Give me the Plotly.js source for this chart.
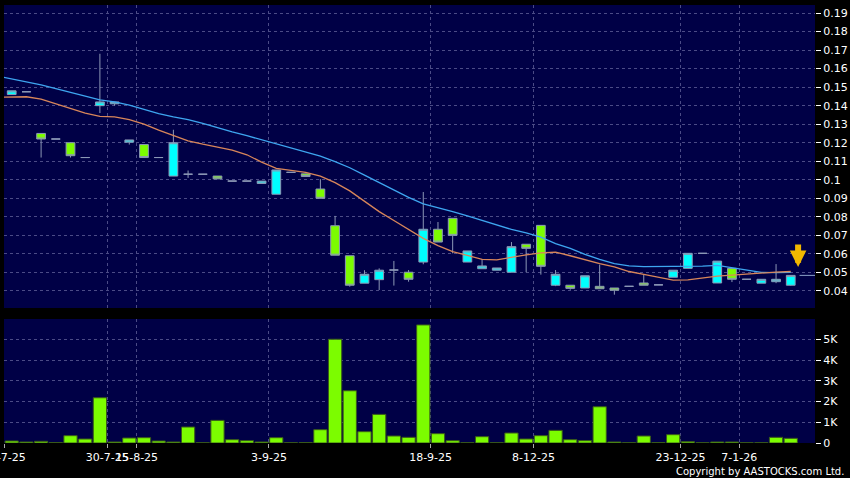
<!DOCTYPE html>
<html>
<head>
<meta charset="utf-8">
<script src="https://cdn.plot.ly/plotly-3.0.1.min.js"></script>
<style>html,body{margin:0;padding:0;background:#000;}#chart{width:850px;height:478px;}</style>
</head>
<body>
<div id="chart"></div>
<script>
// ---- data ----
const openP  = [0.146,0.1475,0.125,0.122,0.120,0.112,0.140,0.141,0.1203,0.119,0.112,0.102,0.103,0.103,0.102,0.0993,0.0993,0.098,0.0922,0.104,0.1032,0.095,0.0752,0.059,0.0442,0.0461,0.0513,0.0501,0.0556,0.0733,0.0792,0.0556,0.052,0.0512,0.0501,0.0652,0.0754,0.0431,0.0431,0.0416,0.0425,0.0416,0.0425,0.0443,0.0433,0.0474,0.0522,0.0603,0.0443,0.0522,0.0463,0.0442,0.045,0.0431];
const highP  = [0.148,0.1475,0.125,0.122,0.120,0.112,0.168,0.142,0.1215,0.119,0.112,0.127,0.105,0.103,0.102,0.0993,0.0993,0.0993,0.1053,0.104,0.1032,0.1003,0.0805,0.059,0.0512,0.0522,0.0562,0.0513,0.0934,0.0772,0.0792,0.0616,0.0573,0.0524,0.0664,0.0652,0.0754,0.0513,0.0431,0.0482,0.0542,0.0416,0.0425,0.049,0.0433,0.0512,0.0603,0.0603,0.0561,0.0522,0.0463,0.0463,0.0545,0.0484];
const lowP   = [0.146,0.1475,0.112,0.122,0.112,0.112,0.136,0.140,0.119,0.112,0.112,0.102,0.101,0.103,0.1005,0.0993,0.0993,0.098,0.0922,0.104,0.1018,0.090,0.0593,0.0423,0.0442,0.0405,0.0429,0.045,0.0544,0.0664,0.0603,0.0556,0.052,0.0512,0.0501,0.0501,0.0488,0.0426,0.0407,0.0416,0.0412,0.038,0.0425,0.0431,0.0433,0.0474,0.0522,0.0603,0.0443,0.0448,0.0463,0.0442,0.0442,0.0428];
const closeP = [0.148,0.1475,0.122,0.122,0.113,0.112,0.142,0.142,0.1215,0.112,0.112,0.120,0.103,0.103,0.1005,0.0993,0.0993,0.0993,0.1053,0.104,0.1018,0.090,0.0593,0.0431,0.049,0.0512,0.0513,0.0463,0.0733,0.0664,0.070,0.0616,0.0535,0.0524,0.0639,0.063,0.0533,0.049,0.0414,0.0482,0.0412,0.0404,0.0425,0.0431,0.0433,0.0512,0.0603,0.0603,0.0561,0.0463,0.0463,0.0463,0.0463,0.0484];
const volume = [96,48,80,16,353,192,2180,48,240,256,96,48,770,10,1090,160,112,48,256,10,16,641,5000,2517,545,1379,337,273,5690,449,112,10,305,10,481,192,353,609,160,112,1747,48,10,337,16,401,64,10,48,48,10,10,273,224];
// moving averages, first value belongs to the bar before the first visible one
const maShort = [0.1445,0.1447,0.1448,0.1435,0.1410,0.1386,0.1360,0.1342,0.1340,0.1325,0.1300,0.1268,0.1240,0.1210,0.1192,0.1175,0.1160,0.1135,0.1095,0.1062,0.1050,0.1040,0.1020,0.0985,0.0940,0.0883,0.0828,0.0780,0.0733,0.0684,0.0645,0.0612,0.0592,0.0570,0.0568,0.0582,0.0595,0.0605,0.0609,0.0590,0.0568,0.0548,0.0530,0.0505,0.0490,0.0475,0.0458,0.0460,0.0470,0.0480,0.0485,0.0492,0.0497,0.0502,0.0505];
const maLong  = [0.1560,0.1545,0.1530,0.1512,0.1492,0.1472,0.1452,0.1431,0.1420,0.1403,0.1380,0.1357,0.1340,0.1325,0.1305,0.1280,0.1258,0.1238,0.1216,0.1196,0.1170,0.1152,0.1128,0.1098,0.1065,0.1025,0.0984,0.0945,0.0905,0.0870,0.0850,0.0828,0.0805,0.0780,0.0755,0.0732,0.0714,0.0690,0.0655,0.0630,0.0598,0.0570,0.0548,0.0535,0.0531,0.0531,0.0531,0.0531,0.0534,0.0538,0.0524,0.0510,0.0500,0.0499,0.0500];
const dateLabels = ['21-7-25','30-7-25','15-8-25','3-9-25','18-9-25','8-12-25','23-12-25','7-1-26'];
const datePos    = [-0.5, 6.5, 8.5, 17.5, 28.5, 35.5, 45.5, 49.5];
const volTickVals = [0,1000,2000,3000,4000,5000];
const volTickText = ['0','1K','2K','3K','4K','5K'];

// ---- build ----
const xi = openP.map((_, i) => i);
const xma = maShort.map((_, i) => i - 1);
const last = closeP.length - 1;

const gridColor = '#4b4b86';
const tickFont = {family: 'DejaVu Sans', size: 11, color: '#ffffff'};
const xRange = [-0.524, 54.65];

const traces = [
  {
    type: 'candlestick', x: xi, open: openP, high: highP, low: lowP, close: closeP,
    xaxis: 'x', yaxis: 'y',
    increasing: {line: {color: '#8c98b6', width: 1}, fillcolor: '#00ffff'},
    decreasing: {line: {color: '#8c98b6', width: 1}, fillcolor: '#7cfc00'},
    whiskerwidth: 0, hoverinfo: 'skip'
  },
  {type: 'scatter', mode: 'lines', x: xma, y: maLong, xaxis: 'x', yaxis: 'y',
   line: {color: '#3ea6f0', width: 1.3}, hoverinfo: 'skip'},
  {type: 'scatter', mode: 'lines', x: xma, y: maShort, xaxis: 'x', yaxis: 'y',
   line: {color: '#d8865a', width: 1.3}, hoverinfo: 'skip'},
  {type: 'scatter', mode: 'lines', x: [last + 0.6, xRange[1]], y: [closeP[last], closeP[last]],
   xaxis: 'x', yaxis: 'y', line: {color: '#8aa0c8', width: 1}, hoverinfo: 'skip'},
  {type: 'bar', x: xi, y: volume, xaxis: 'x2', yaxis: 'y2',
   marker: {color: '#7cfc00', line: {color: '#3a5a1a', width: 1}}, hoverinfo: 'skip'}
];

const layout = {
  width: 850, height: 478,
  paper_bgcolor: '#000000', plot_bgcolor: '#000046',
  margin: {l: 4, r: 35, t: 5, b: 35},
  showlegend: false,
  boxgap: 0.15, bargap: 0.1,
  xaxis: {
    domain: [0, 1], anchor: 'y', range: xRange, rangeslider: {visible: false},
    tickmode: 'array', tickvals: datePos, ticktext: dateLabels, showticklabels: false,
    ticks: '', showgrid: true, gridcolor: gridColor, griddash: '3px,3px', gridwidth: 1,
    zeroline: false, showline: false
  },
  yaxis: {
    domain: [0.3082, 1], anchor: 'x', range: [0.0308, 0.19432], side: 'right',
    tickmode: 'linear', tick0: 0.04, dtick: 0.01,
    ticks: 'outside', ticklen: 5, tickcolor: '#ffffff', tickfont: tickFont,
    showgrid: true, gridcolor: gridColor, griddash: '3px,3px', zeroline: false, showline: false
  },
  xaxis2: {
    domain: [0, 1], anchor: 'y2', range: xRange,
    tickmode: 'array', tickvals: datePos, ticktext: dateLabels, tickangle: 0,
    ticklabeloverflow: 'allow',
    ticks: 'outside', ticklen: 4, tickcolor: '#aaaaaa', tickfont: tickFont,
    showgrid: true, gridcolor: gridColor, griddash: '3px,3px',
    zeroline: false, showline: false
  },
  yaxis2: {
    domain: [0, 0.2831], anchor: 'x2', range: [0, 5976], side: 'right',
    tickmode: 'array', tickvals: volTickVals, ticktext: volTickText,
    ticks: 'outside', ticklen: 5, tickcolor: '#ffffff', tickfont: tickFont,
    showgrid: true, gridcolor: gridColor, griddash: '3px,3px', zeroline: false, showline: false
  },
  annotations: [
    {text: 'Copyright by AASTOCKS.com Ltd.', xref: 'paper', yref: 'paper',
     x: 1.038, y: -0.064, xanchor: 'right', yanchor: 'middle', showarrow: false,
     font: {family: 'DejaVu Sans', size: 10, color: '#ffffff'}},
    {text: '', xref: 'x', yref: 'y', x: last + 0.5, y: 0.0529, ax: 0, ay: -24,
     showarrow: true, arrowhead: 2, arrowwidth: 6, arrowsize: 0.55, arrowcolor: '#f2b800'}
  ]
};

Plotly.newPlot('chart', traces, layout, {displayModeBar: false, staticPlot: true});
</script>
</body>
</html>
